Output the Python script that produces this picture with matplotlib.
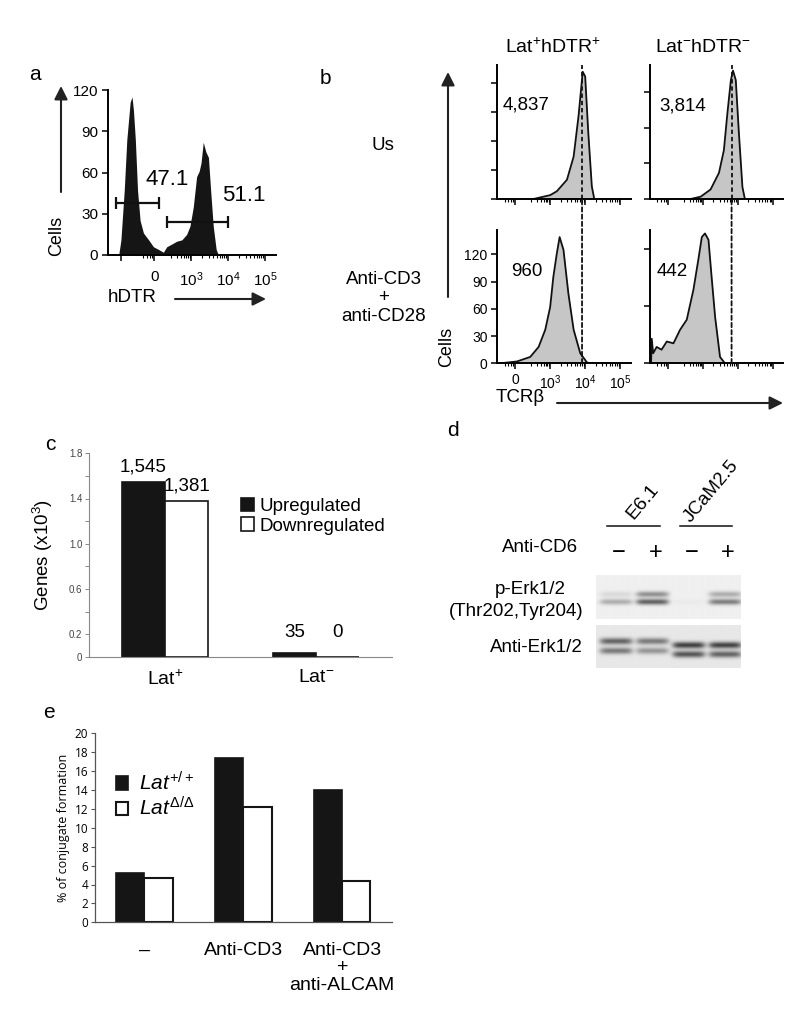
import numpy as np
import matplotlib
matplotlib.use("Agg")
import matplotlib.pyplot as plt
from matplotlib.patches import ConnectionPatch

plt.rcParams["font.family"] = ["Liberation Sans", "DejaVu Sans"]
plt.rcParams["mathtext.fontset"] = "custom"
plt.rcParams["mathtext.rm"] = "Liberation Sans"
plt.rcParams["mathtext.it"] = "Liberation Sans:italic"
plt.rcParams["mathtext.bf"] = "Liberation Sans:bold"

# ---- data ----
# a) hDTR histogram (x in decades: 0 -> 0, 10^3 -> 1, 10^4 -> 2, 10^5 -> 3)
a_x = [-0.96, -0.90, -0.81, -0.74, -0.65, -0.60, -0.56, -0.51, -0.45, -0.38, -0.29,
       -0.15, -0.02, 0.12, 0.25, 0.34, 0.48, 0.61, 0.75, 0.88, 0.97, 1.06, 1.15,
       1.22, 1.27, 1.33, 1.40, 1.47, 1.53, 1.60, 1.68, 1.74]
a_cells = [0, 11, 47, 84, 111, 115, 105, 84, 47, 25, 16, 11, 6, 4, 2, 6, 8, 10, 11,
           15, 21, 35, 57, 61, 67, 82, 75, 71, 47, 21, 4, 0]
a_gate_lo = [-1.02, 0.34]
a_gate_hi = [0.13, 2.0]
a_gate_y = [38, 24]
a_gate_pct = ["47.1", "51.1"]

# b) TCRb histograms
b_us_pos_x = [0.52, 1.00, 1.19, 1.48, 1.67, 1.81, 1.93, 2.00, 2.09, 2.19, 2.26]
b_us_pos_n = [0, 4, 8, 20, 44, 86, 132, 127, 68, 13, 0]
b_us_neg_x = [0.65, 0.94, 1.22, 1.46, 1.60, 1.70, 1.80, 1.86, 1.94, 2.03, 2.13, 2.20]
b_us_neg_n = [0, 2, 8, 22, 41, 72, 100, 108, 100, 55, 10, 0]
b_st_pos_x = [-0.43, 0.05, 0.43, 0.67, 0.86, 1.00, 1.09, 1.19, 1.27, 1.38, 1.52,
              1.67, 1.86, 2.05, 2.14]
b_st_pos_n = [0, 2, 7, 18, 37, 62, 95, 121, 139, 125, 77, 37, 11, 1, 0]
b_st_neg_x = [-0.48, -0.46, -0.42, -0.32, -0.18, -0.03, 0.16, 0.35, 0.54, 0.73, 0.87,
              0.97, 1.06, 1.16, 1.25, 1.35, 1.49, 1.63]
b_st_neg_n = [0, 27, 11, 18, 15, 24, 22, 37, 48, 81, 114, 139, 143, 136, 95, 51, 7, 0]
b_mfi = [["4,837", "3,814"], ["960", "442"]]
b_ref = [1.91, 1.82]

# c) differentially expressed genes (x10^3)
c_groups = ["Lat$^{+}$", "Lat$^{-}$"]
c_up = [1.545, 0.035]
c_down = [1.381, 0.0]
c_up_txt = ["1,545", "35"]
c_down_txt = ["1,381", "0"]

# d) western blot: band darkness (upper band, lower band) x 4 lanes, and band heights
d_signs = ["\u2212", "+", "\u2212", "+"]
d_cells = ["E6.1", "JCaM2.5"]
d_perk = [[0.12, 0.5, 0.0, 0.35], [0.35, 0.75, 0.03, 0.6]]
d_perk_y = [[0.55, 0.55, 0.55, 0.55], [0.38, 0.38, 0.38, 0.38]]
d_erk = [[0.72, 0.6, 0.92, 0.9], [0.6, 0.45, 0.8, 0.72]]
d_erk_y = [[0.61, 0.61, 0.52, 0.52], [0.39, 0.39, 0.31, 0.31]]

# e) conjugate formation (%)
e_groups = ["\u2013", "Anti-CD3", "Anti-CD3\n+\nanti-ALCAM"]
e_wt = [5.2, 17.4, 14.0]
e_del = [4.7, 12.2, 4.4]

W, H = 800, 1029
fig = plt.figure(figsize=(8, 10.29), dpi=100)


def rect(x0, y0, x1, y1):
    return [x0 / W, 1 - y1 / H, (x1 - x0) / W, (y1 - y0) / H]


def ftext(x, y, s, **kw):
    fig.text(x / W, 1 - y / H, s, ha=kw.pop("ha", "center"), va=kw.pop("va", "center"), **kw)


def farrow(x0, y0, x1, y1):
    fig.add_artist(plt.Annotation("", xy=(x1 / W, 1 - y1 / H), xytext=(x0 / W, 1 - y0 / H),
                                  xycoords="figure fraction",
                                  arrowprops=dict(arrowstyle="-|>", color="#222", lw=1.5,
                                                  mutation_scale=20, shrinkA=0, shrinkB=0)))


minor = [-0.3, -0.2, -0.12, -0.06, 0.45, 0.62, 0.73, 0.81, 0.87, 0.92, 0.96]
minor += [d + np.log10(k) for d in (1, 2) for k in range(2, 10)]


def flow_axes(ax, top, yticks, labels):
    ax.set_xlim(-0.51, 3.30)
    ax.set_ylim(0, top)
    for s in ["top", "right"]:
        ax.spines[s].set_visible(False)
    for s in ["left", "bottom"]:
        ax.spines[s].set_linewidth(1.4)
    ax.set_xticks([0, 1, 2, 3])
    ax.set_xticks(minor, minor=True)
    ax.set_yticks(yticks)
    ax.tick_params(which="major", length=4, width=1.1, direction="out", labelsize=10, pad=3)
    ax.tick_params(which="minor", length=2, width=0.8)
    if labels:
        ax.set_xticklabels(["0", "$10^3$", "$10^4$", "$10^5$"])
    else:
        ax.set_xticklabels([])
        ax.set_yticklabels([])


# ---- panel a ----
ax = fig.add_axes(rect(108, 90, 276, 255))
flow_axes(ax, 120, [0, 30, 60, 90, 120], True)
ax.set_xlim(-1.25, 3.3)
ax.set_xticks([-0.9, 0, 1, 2, 3])
ax.set_xticklabels(["", "0", "$10^3$", "$10^4$", "$10^5$"])
ax.tick_params(labelsize=11)
ax.tick_params(axis="x", pad=7)
ax.fill_between(a_x, a_cells, color="#151515", lw=0)
for lo, hi, y, t, tx, ty in zip(a_gate_lo, a_gate_hi, a_gate_y, a_gate_pct, [0.34, 2.44], [55, 43]):
    ax.errorbar((lo + hi) / 2, y, xerr=(hi - lo) / 2, color="#111", lw=1.6, capsize=4, capthick=1.6)
    ax.text(tx, ty, t, fontsize=16, ha="center", va="center")
ftext(35, 75, "a", fontsize=15)
ftext(57, 236, "Cells", fontsize=13, rotation=90)
ftext(132, 297, "hDTR", fontsize=13.5)
farrow(61, 192, 61, 86)
farrow(175, 299, 266, 299)

# ---- panel b ----
bx = [[b_us_pos_x, b_us_neg_x], [b_st_pos_x, b_st_neg_x]]
bn = [[b_us_pos_n, b_us_neg_n], [b_st_pos_n, b_st_neg_n]]
tops = [[139, 112.7], [146.8, 146.8]]
yt = [[[0, 30, 60, 90, 120], [0, 30, 60, 90]], [[0, 30, 60, 90, 120], [0, 63, 126]]]
xs0 = [497.3, 650]
ys0 = [(65, 199), (230, 363.3)]
mfi_pos = [[(0.215, 0.70), (0.245, 0.694)], [(0.223, 0.685), (0.165, 0.685)]]
baxes = [[None, None], [None, None]]
for r in range(2):
    for c in range(2):
        ax = fig.add_axes(rect(xs0[c], ys0[r][0], xs0[c] + 133.4, ys0[r][1]))
        flow_axes(ax, tops[r][c], yt[r][c], r == 1 and c == 0)
        ax.fill_between(bx[r][c], bn[r][c], color="#c6c6c6", lw=0)
        ax.plot(bx[r][c], bn[r][c], color="#111", lw=1.3)
        ax.text(*mfi_pos[r][c], b_mfi[r][c], transform=ax.transAxes, fontsize=13.5,
                ha="center", va="center")
        baxes[r][c] = ax
for c in range(2):
    baxes[0][c].axvline(b_ref[c], color="#111", lw=1.3, ls=(0, (2.4, 1.6)))
    fig.add_artist(ConnectionPatch(xyA=(b_ref[c], 0), coordsA=baxes[1][c].transData,
                                   xyB=(b_ref[c], 0), coordsB=baxes[0][c].transData,
                                   color="#111", lw=1.3, ls=(0, (2.4, 1.6))))
ftext(553, 47, "Lat$^{+}$hDTR$^{+}$", fontsize=14)
ftext(703, 47, "Lat$^{-}$hDTR$^{-}$", fontsize=14)
ftext(325, 78, "b", fontsize=15)
ftext(383, 145, "Us", fontsize=13.5)
ftext(384, 298, "Anti-CD3\n+\nanti-CD28", fontsize=13.5, linespacing=1.15)
ftext(447, 347, "Cells", fontsize=13, rotation=90)
ftext(520, 398, "TCR\u03b2", fontsize=13.5)
farrow(448, 297, 448, 72)
farrow(557, 403, 783, 403)

# ---- panel c ----
ax = fig.add_axes(rect(89.3, 453.3, 392, 656.7))
xc = np.arange(len(c_groups))
w = 0.285
ax.bar(xc - w / 2, c_up, w, color="#151515", edgecolor="#151515", lw=1.2, label="Upregulated")
ax.bar(xc + w / 2, c_down, w, color="white", edgecolor="#151515", lw=1.2, label="Downregulated")
for i in range(len(xc)):
    ax.text(xc[i] - w / 2, max(c_up[i], 0.08) + 0.055, c_up_txt[i], fontsize=13.5, ha="center", va="bottom")
    ax.text(xc[i] + w / 2, max(c_down[i], 0.08) + 0.055, c_down_txt[i], fontsize=13.5, ha="center", va="bottom")
ax.set_xlim(-0.5, 1.5)
ax.set_ylim(0, 1.8)
yv = np.round(np.arange(0, 1.81, 0.2), 1)
ax.set_yticks(yv)
ax.set_yticklabels(["0" if v == 0 else (f"{v:.1f}" if v in (0.2, 0.6, 1.0, 1.4, 1.8) else "") for v in yv])
ax.set_xticks(xc)
ax.set_xticklabels(c_groups, fontsize=14)
ax.tick_params(axis="x", length=0, pad=9)
ax.tick_params(axis="y", length=3, width=0.7, color="#888", labelsize=7, labelcolor="#444", pad=2)
for s in ["top", "right"]:
    ax.spines[s].set_visible(False)
for s in ["left", "bottom"]:
    ax.spines[s].set_color("#888")
    ax.spines[s].set_linewidth(0.8)
ax.set_ylabel("Genes (x10$^3$)", fontsize=13.5, labelpad=10)
ax.legend(loc="upper left", bbox_to_anchor=(0.5, 0.78), frameon=False, fontsize=13.5,
          handlelength=0.7, handleheight=0.7, handletextpad=0.3, labelspacing=0.12,
          borderpad=0, borderaxespad=0)
ftext(50, 445, "c", fontsize=15)


# ---- panel d ----
def blot(ax, inten, band_y, bg, sy):
    xs = np.linspace(-0.55, 3.43, 300)
    ys = np.linspace(0, 1, 90)
    X, Y = np.meshgrid(xs, ys)
    dark = np.zeros_like(X)
    for b in range(len(inten)):
        for lane in range(4):
            dark += (inten[b][lane] * np.exp(-((Y - band_y[b][lane]) / sy) ** 2)
                     * np.exp(-((X - lane) / 0.45) ** 6))
    img = bg - np.clip(dark, 0, 1) * (bg - 0.18)
    ax.imshow(img, cmap="gray", vmin=0, vmax=1, extent=(-0.55, 3.43, 0, 1), origin="lower",
              aspect="auto", interpolation="bicubic")
    ax.set_xlim(-0.55, 3.43)
    ax.set_axis_off()


ax1 = fig.add_axes(rect(596, 575, 740.7, 619.3))
blot(ax1, d_perk, d_perk_y, 0.94, 0.065)
ax2 = fig.add_axes(rect(596, 625, 740.7, 668.3))
blot(ax2, d_erk, d_erk_y, 0.91, 0.075)
tr = ax1.get_xaxis_transform()
for i, s in enumerate(d_signs):
    ax1.text(i + 0.08, 1.5, s, transform=tr, fontsize=17, ha="center", va="center", clip_on=False)
for k, name in enumerate(d_cells):
    ax1.plot([2 * k - 0.25, 2 * k + 1.2], [2.1, 2.1], transform=tr, color="#111", lw=1.1, clip_on=False)
ftext(643, 502, d_cells[0], fontsize=14, rotation=50)
ftext(711, 491, d_cells[1], fontsize=13.5, rotation=50)
ftext(578, 548, "Anti-CD6", fontsize=13.5, ha="right")
ftext(530, 590, "p-Erk1/2", fontsize=13.5)
ftext(583, 612, "(Thr202,Tyr204)", fontsize=13.5, ha="right")
ftext(583, 647, "Anti-Erk1/2", fontsize=13.5, ha="right")
ftext(453, 430, "d", fontsize=15)

# ---- panel e ----
ax = fig.add_axes(rect(95, 733.3, 391.7, 922.3))
xe = np.arange(len(e_groups))
ax.bar(xe - w / 2, e_wt, w, color="#151515", edgecolor="#151515", lw=1.2, label=r"$\mathit{Lat}^{+/+}$")
ax.bar(xe + w / 2, e_del, w, color="white", edgecolor="#151515", lw=1.5, label=r"$\mathit{Lat}^{\Delta/\Delta}$")
ax.set_xlim(-0.5, 2.5)
ax.set_ylim(0, 20)
ax.set_yticks(range(0, 21, 2))
ax.set_xticks(xe)
ax.set_xticklabels(e_groups, fontsize=14, linespacing=1.05, va="top")
ax.tick_params(axis="x", length=0, pad=14)
ax.tick_params(axis="y", length=3, width=0.8, color="#555", labelsize=8.5, labelfontfamily="Open Sans", pad=2)
for s in ["top", "right"]:
    ax.spines[s].set_visible(False)
for s in ["left", "bottom"]:
    ax.spines[s].set_color("#555")
    ax.spines[s].set_linewidth(0.9)
ax.set_ylabel("% of conjugate formation", fontsize=9, fontfamily="Open Sans", labelpad=3)
ax.legend(loc="upper left", bbox_to_anchor=(0.07, 0.8), frameon=False, fontsize=15,
          handlelength=0.6, handleheight=0.6, handletextpad=0.5, labelspacing=0.1,
          borderpad=0, borderaxespad=0)
ftext(49, 712, "e", fontsize=15)

fig.savefig("out.png", dpi=100)
